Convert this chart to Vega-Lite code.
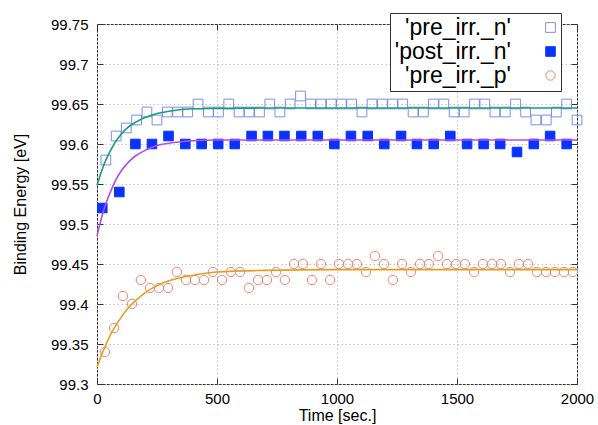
{
"$schema":"https://vega.github.io/schema/vega-lite/v6.json",
"width":480,"height":360,
"autosize":"none",
"padding":{"left":97,"top":24,"right":21,"bottom":41},
"background":"white",
"config":{"view":{"stroke":"#333","strokeWidth":1},"font":"Liberation Sans"},
"datasets":{
"fits":[
{"t":0,"v":99.548,"c":"g"},{"t":20,"v":99.567,"c":"g"},{"t":40,"v":99.582,"c":"g"},{"t":60,"v":99.594,"c":"g"},{"t":80,"v":99.604,"c":"g"},{"t":100,"v":99.612,"c":"g"},{"t":130,"v":99.621,"c":"g"},{"t":160,"v":99.627,"c":"g"},{"t":200,"v":99.633,"c":"g"},{"t":250,"v":99.638,"c":"g"},{"t":300,"v":99.641,"c":"g"},{"t":400,"v":99.644,"c":"g"},{"t":500,"v":99.6445,"c":"g"},{"t":700,"v":99.645,"c":"g"},{"t":1000,"v":99.645,"c":"g"},{"t":2000,"v":99.645,"c":"g"},
{"t":0,"v":99.485,"c":"p"},{"t":20,"v":99.509,"c":"p"},{"t":40,"v":99.528,"c":"p"},{"t":60,"v":99.543,"c":"p"},{"t":80,"v":99.556,"c":"p"},{"t":100,"v":99.566,"c":"p"},{"t":130,"v":99.577,"c":"p"},{"t":160,"v":99.585,"c":"p"},{"t":200,"v":99.592,"c":"p"},{"t":250,"v":99.598,"c":"p"},{"t":300,"v":99.601,"c":"p"},{"t":400,"v":99.604,"c":"p"},{"t":500,"v":99.605,"c":"p"},{"t":700,"v":99.605,"c":"p"},{"t":1000,"v":99.605,"c":"p"},{"t":2000,"v":99.605,"c":"p"},
{"t":0,"v":99.321,"c":"o"},{"t":20,"v":99.337,"c":"o"},{"t":40,"v":99.351,"c":"o"},{"t":60,"v":99.364,"c":"o"},{"t":80,"v":99.374,"c":"o"},{"t":100,"v":99.383,"c":"o"},{"t":130,"v":99.395,"c":"o"},{"t":160,"v":99.404,"c":"o"},{"t":200,"v":99.414,"c":"o"},{"t":250,"v":99.423,"c":"o"},{"t":300,"v":99.429,"c":"o"},{"t":400,"v":99.436,"c":"o"},{"t":500,"v":99.44,"c":"o"},{"t":700,"v":99.442,"c":"o"},{"t":1000,"v":99.443,"c":"o"},{"t":2000,"v":99.443,"c":"o"}
],
"pts":[
{"t":37,"v":99.58,"s":"'pre_irr._n'"},{"t":80,"v":99.61,"s":"'pre_irr._n'"},{"t":122,"v":99.62,"s":"'pre_irr._n'"},{"t":165,"v":99.63,"s":"'pre_irr._n'"},{"t":208,"v":99.64,"s":"'pre_irr._n'"},{"t":250,"v":99.63,"s":"'pre_irr._n'"},{"t":293,"v":99.64,"s":"'pre_irr._n'"},{"t":336,"v":99.64,"s":"'pre_irr._n'"},{"t":378,"v":99.64,"s":"'pre_irr._n'"},{"t":421,"v":99.65,"s":"'pre_irr._n'"},{"t":464,"v":99.64,"s":"'pre_irr._n'"},{"t":506,"v":99.64,"s":"'pre_irr._n'"},{"t":549,"v":99.65,"s":"'pre_irr._n'"},{"t":592,"v":99.64,"s":"'pre_irr._n'"},{"t":634,"v":99.64,"s":"'pre_irr._n'"},{"t":677,"v":99.64,"s":"'pre_irr._n'"},{"t":720,"v":99.65,"s":"'pre_irr._n'"},{"t":762,"v":99.64,"s":"'pre_irr._n'"},{"t":805,"v":99.65,"s":"'pre_irr._n'"},{"t":848,"v":99.66,"s":"'pre_irr._n'"},{"t":890,"v":99.65,"s":"'pre_irr._n'"},{"t":933,"v":99.65,"s":"'pre_irr._n'"},{"t":976,"v":99.65,"s":"'pre_irr._n'"},{"t":1018,"v":99.65,"s":"'pre_irr._n'"},{"t":1061,"v":99.65,"s":"'pre_irr._n'"},{"t":1104,"v":99.64,"s":"'pre_irr._n'"},{"t":1146,"v":99.65,"s":"'pre_irr._n'"},{"t":1189,"v":99.65,"s":"'pre_irr._n'"},{"t":1232,"v":99.65,"s":"'pre_irr._n'"},{"t":1274,"v":99.65,"s":"'pre_irr._n'"},{"t":1317,"v":99.64,"s":"'pre_irr._n'"},{"t":1360,"v":99.64,"s":"'pre_irr._n'"},{"t":1402,"v":99.65,"s":"'pre_irr._n'"},{"t":1445,"v":99.65,"s":"'pre_irr._n'"},{"t":1488,"v":99.64,"s":"'pre_irr._n'"},{"t":1530,"v":99.64,"s":"'pre_irr._n'"},{"t":1573,"v":99.65,"s":"'pre_irr._n'"},{"t":1616,"v":99.65,"s":"'pre_irr._n'"},{"t":1658,"v":99.64,"s":"'pre_irr._n'"},{"t":1701,"v":99.64,"s":"'pre_irr._n'"},{"t":1744,"v":99.65,"s":"'pre_irr._n'"},{"t":1786,"v":99.64,"s":"'pre_irr._n'"},{"t":1829,"v":99.63,"s":"'pre_irr._n'"},{"t":1872,"v":99.63,"s":"'pre_irr._n'"},{"t":1914,"v":99.64,"s":"'pre_irr._n'"},{"t":1957,"v":99.65,"s":"'pre_irr._n'"},{"t":2000,"v":99.63,"s":"'pre_irr._n'"},
{"t":22,"v":99.52,"s":"'post_irr._n'"},{"t":93,"v":99.54,"s":"'post_irr._n'"},{"t":160,"v":99.6,"s":"'post_irr._n'"},{"t":229,"v":99.6,"s":"'post_irr._n'"},{"t":298,"v":99.61,"s":"'post_irr._n'"},{"t":368,"v":99.6,"s":"'post_irr._n'"},{"t":436,"v":99.6,"s":"'post_irr._n'"},{"t":505,"v":99.6,"s":"'post_irr._n'"},{"t":574,"v":99.6,"s":"'post_irr._n'"},{"t":644,"v":99.61,"s":"'post_irr._n'"},{"t":712,"v":99.61,"s":"'post_irr._n'"},{"t":781,"v":99.61,"s":"'post_irr._n'"},{"t":851,"v":99.61,"s":"'post_irr._n'"},{"t":920,"v":99.61,"s":"'post_irr._n'"},{"t":989,"v":99.6,"s":"'post_irr._n'"},{"t":1058,"v":99.61,"s":"'post_irr._n'"},{"t":1128,"v":99.61,"s":"'post_irr._n'"},{"t":1197,"v":99.6,"s":"'post_irr._n'"},{"t":1267,"v":99.61,"s":"'post_irr._n'"},{"t":1333,"v":99.6,"s":"'post_irr._n'"},{"t":1403,"v":99.6,"s":"'post_irr._n'"},{"t":1472,"v":99.61,"s":"'post_irr._n'"},{"t":1542,"v":99.6,"s":"'post_irr._n'"},{"t":1611,"v":99.6,"s":"'post_irr._n'"},{"t":1680,"v":99.6,"s":"'post_irr._n'"},{"t":1750,"v":99.59,"s":"'post_irr._n'"},{"t":1820,"v":99.6,"s":"'post_irr._n'"},{"t":1888,"v":99.61,"s":"'post_irr._n'"},{"t":1957,"v":99.6,"s":"'post_irr._n'"},
{"t":33,"v":99.34,"s":"'pre_irr._p'"},{"t":71,"v":99.37,"s":"'pre_irr._p'"},{"t":108,"v":99.41,"s":"'pre_irr._p'"},{"t":146,"v":99.4,"s":"'pre_irr._p'"},{"t":183,"v":99.43,"s":"'pre_irr._p'"},{"t":221,"v":99.42,"s":"'pre_irr._p'"},{"t":258,"v":99.42,"s":"'pre_irr._p'"},{"t":296,"v":99.42,"s":"'pre_irr._p'"},{"t":333,"v":99.44,"s":"'pre_irr._p'"},{"t":371,"v":99.43,"s":"'pre_irr._p'"},{"t":408,"v":99.43,"s":"'pre_irr._p'"},{"t":446,"v":99.43,"s":"'pre_irr._p'"},{"t":483,"v":99.44,"s":"'pre_irr._p'"},{"t":521,"v":99.43,"s":"'pre_irr._p'"},{"t":558,"v":99.44,"s":"'pre_irr._p'"},{"t":596,"v":99.44,"s":"'pre_irr._p'"},{"t":633,"v":99.42,"s":"'pre_irr._p'"},{"t":671,"v":99.43,"s":"'pre_irr._p'"},{"t":708,"v":99.43,"s":"'pre_irr._p'"},{"t":746,"v":99.44,"s":"'pre_irr._p'"},{"t":783,"v":99.43,"s":"'pre_irr._p'"},{"t":821,"v":99.45,"s":"'pre_irr._p'"},{"t":858,"v":99.45,"s":"'pre_irr._p'"},{"t":896,"v":99.43,"s":"'pre_irr._p'"},{"t":933,"v":99.45,"s":"'pre_irr._p'"},{"t":971,"v":99.43,"s":"'pre_irr._p'"},{"t":1008,"v":99.45,"s":"'pre_irr._p'"},{"t":1046,"v":99.45,"s":"'pre_irr._p'"},{"t":1083,"v":99.45,"s":"'pre_irr._p'"},{"t":1121,"v":99.44,"s":"'pre_irr._p'"},{"t":1158,"v":99.46,"s":"'pre_irr._p'"},{"t":1196,"v":99.45,"s":"'pre_irr._p'"},{"t":1233,"v":99.43,"s":"'pre_irr._p'"},{"t":1271,"v":99.45,"s":"'pre_irr._p'"},{"t":1308,"v":99.44,"s":"'pre_irr._p'"},{"t":1346,"v":99.45,"s":"'pre_irr._p'"},{"t":1383,"v":99.45,"s":"'pre_irr._p'"},{"t":1421,"v":99.46,"s":"'pre_irr._p'"},{"t":1458,"v":99.45,"s":"'pre_irr._p'"},{"t":1496,"v":99.45,"s":"'pre_irr._p'"},{"t":1533,"v":99.45,"s":"'pre_irr._p'"},{"t":1571,"v":99.44,"s":"'pre_irr._p'"},{"t":1608,"v":99.45,"s":"'pre_irr._p'"},{"t":1646,"v":99.45,"s":"'pre_irr._p'"},{"t":1683,"v":99.45,"s":"'pre_irr._p'"},{"t":1721,"v":99.44,"s":"'pre_irr._p'"},{"t":1758,"v":99.45,"s":"'pre_irr._p'"},{"t":1796,"v":99.45,"s":"'pre_irr._p'"},{"t":1833,"v":99.44,"s":"'pre_irr._p'"},{"t":1871,"v":99.44,"s":"'pre_irr._p'"},{"t":1908,"v":99.44,"s":"'pre_irr._p'"},{"t":1946,"v":99.44,"s":"'pre_irr._p'"},{"t":1983,"v":99.44,"s":"'pre_irr._p'"}
]
},
"layer":[
{"data":{"name":"pts"},
 "mark":{"type":"point","filled":false,"strokeWidth":1,"opacity":1},
 "encoding":{
  "x":{"field":"t","type":"quantitative","scale":{"domain":[0,2000],"nice":false,"zero":false},
   "axis":{"orient":"bottom","values":[0,500,1000,1500,2000],"format":"d","title":"Time [sec.]","labelFontSize":15,"labelColor":"black","labelBaseline":"alphabetic","labelPadding":25.5,"labelFlush":false,"titleFontSize":16,"titleFontWeight":"normal","titleColor":"black","titleBaseline":"alphabetic","titleY":36,"grid":true,"gridDash":[1.5,2.5],"gridColor":"#c4c4c4","tickSize":-6,"tickColor":"#333","domain":false}},
  "y":{"field":"v","type":"quantitative","scale":{"domain":[99.3,99.75],"nice":false,"zero":false},
   "axis":{"orient":"left","values":[99.3,99.35,99.4,99.45,99.5,99.55,99.6,99.65,99.7,99.75],"format":"~g","title":"Binding Energy [eV]","labelFontSize":15,"labelColor":"black","labelPadding":15,"labelFlush":false,"titleFontSize":16,"titleFontWeight":"normal","titleColor":"black","titleBaseline":"alphabetic","titleX":-72,"grid":true,"gridDash":[1.5,2.5],"gridColor":"#c4c4c4","tickSize":-6,"tickColor":"#333","domain":false}},
  "color":{"field":"s","type":"nominal","scale":{"domain":["'pre_irr._n'","'post_irr._n'","'pre_irr._p'"],"range":["#7d8fe6","#0a32ff","#ef8478"]},
   "legend":{"orient":"none","legendX":293,"legendY":-11,"title":null,"labelFontSize":23,"labelColor":"black","labelAlign":"right","labelOffset":-51,"symbolOffset":146,"labelLimit":400,"strokeColor":"#333","fillColor":"white","padding":3,"rowPadding":-0.5,"symbolSize":160,"symbolStrokeWidth":1}},
  "shape":{"field":"s","type":"nominal","scale":{"domain":["'pre_irr._n'","'post_irr._n'","'pre_irr._p'"],"range":["square","square","circle"]}},
  "fill":{"field":"s","type":"nominal","scale":{"domain":["'pre_irr._n'","'post_irr._n'","'pre_irr._p'"],"range":["transparent","#0a32ff","transparent"]}},
  "size":{"field":"s","type":"ordinal","scale":{"domain":["'pre_irr._n'","'post_irr._n'","'pre_irr._p'"],"range":[95,88,62]},"legend":null}
 }},
{"data":{"name":"fits"},
 "mark":{"type":"line","strokeWidth":1.6,"interpolate":"monotone"},
 "encoding":{
  "x":{"field":"t","type":"quantitative","axis":{"orient":"top","values":[0,500,1000,1500,2000],"labels":false,"grid":false,"domain":false,"title":null,"tickSize":-6,"tickColor":"#333"}},
  "y":{"field":"v","type":"quantitative","axis":{"orient":"right","values":[99.3,99.35,99.4,99.45,99.5,99.55,99.6,99.65,99.7,99.75],"labels":false,"grid":false,"domain":false,"title":null,"tickSize":-6,"tickColor":"#333"}},
  "stroke":{"field":"c","type":"nominal","scale":{"domain":["g","p","o"],"range":["#1a9e78","#b44de8","#e3a020"]},"legend":null}
 }}
],
"resolve":{"axis":{"x":"independent","y":"independent"}}
}
